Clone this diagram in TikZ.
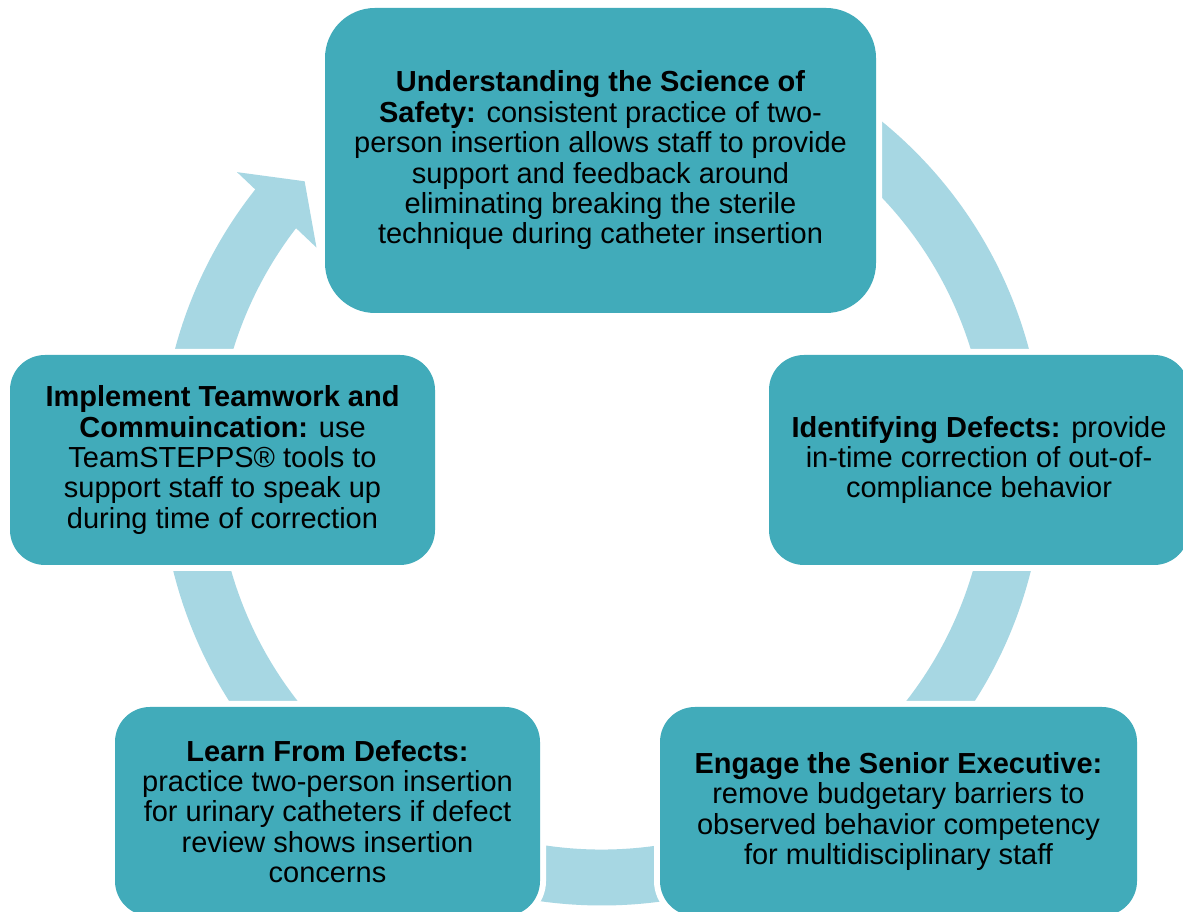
\documentclass[tikz,border=0pt]{standalone}
\usepackage{fontspec}
\setmainfont{Liberation Sans}
\definecolor{boxc}{HTML}{41ABBA}
\definecolor{ringc}{HTML}{A7D7E3}
\begin{document}
\begin{tikzpicture}[x=1pt,y=1pt,
  stepbox/.style={fill=boxc, inner sep=0pt, align=center, text=black,
    font=\fontsize{29}{30.4}\selectfont,
    preaction={draw=white, line width=12pt}},
  ringfill/.style={fill=ringc}
]
\useasboundingbox (0,0) rectangle (1183,912);
\clip (0,0) rectangle (1183,912);
\fill[white] (0,0) rectangle (1183,912);
% ring with arrowhead
\begin{scope}[shift={(602,448.5)}]
  \fill[ringfill] (141.5:442) arc[start angle=141.5, end angle=460, radius=442]
     -- (460:386) arc[start angle=460, end angle=141.5, radius=386] -- cycle;
  \fill[ringfill] (141.4:467) -- (136.5:410) -- (142.9:358) -- cycle;
\end{scope}
% boxes
\node[stepbox, rounded corners=50pt, minimum width=551pt, minimum height=305pt] (top) at (600.5,751.5)
  {\textbf{Understanding the Science of}\\
   \textbf{Safety:} consistent practice of two-\\
   person insertion allows staff to provide\\
   support and feedback around\\
   eliminating breaking the sterile\\
   technique during catheter insertion};
\node[stepbox, rounded corners=35pt, minimum width=420pt, minimum height=210pt] (right) at (979,452)
  {\textbf{Identifying Defects:} provide\\
   in-time correction of out-of-\\
   compliance behavior};
\node[stepbox, rounded corners=35pt, minimum width=477pt, minimum height=209pt] (botr) at (898.5,100.5)
  {\textbf{Engage the Senior Executive:}\\
   remove budgetary barriers to\\
   observed behavior competency\\
   for multidisciplinary staff};
\node[stepbox, rounded corners=35pt, minimum width=425pt, minimum height=209pt] (botl) at (327.5,100.5)
  {\textbf{Learn From Defects:}\\
   practice two-person insertion\\
   for urinary catheters if defect\\
   review shows insertion\\
   concerns};
\node[stepbox, rounded corners=35pt, minimum width=425pt, minimum height=210pt] (left) at (222.5,452)
  {\textbf{Implement Teamwork and}\\
   \textbf{Commuincation:} use\\
   TeamSTEPPS® tools to\\
   support staff to speak up\\
   during time of correction};
\end{tikzpicture}
\end{document}
